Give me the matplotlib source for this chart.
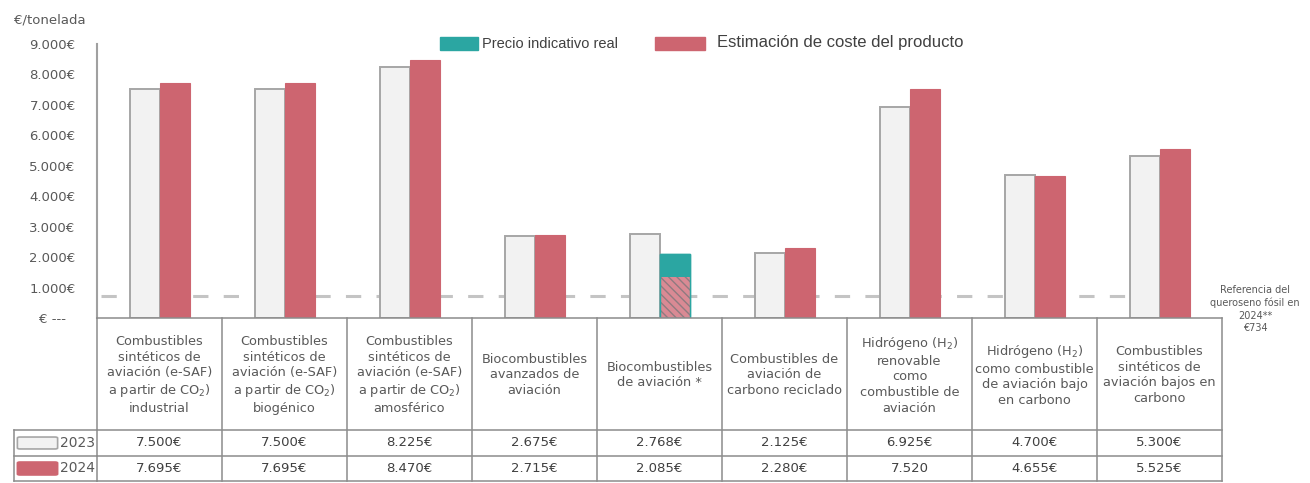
import matplotlib.pyplot as plt
import matplotlib.transforms as mtransforms
from matplotlib.patches import Rectangle, FancyBboxPatch
from matplotlib.lines import Line2D
import numpy as np

# data
categorias = [
    'Combustibles\nsintéticos de\naviación (e-SAF)\na partir de CO$_2$)\nindustrial',
    'Combustibles\nsintéticos de\naviación (e-SAF)\na partir de CO$_2$)\nbiogénico',
    'Combustibles\nsintéticos de\naviación (e-SAF)\na partir de CO$_2$)\namosférico',
    'Biocombustibles\navanzados de\naviación',
    'Biocombustibles\nde aviación *',
    'Combustibles de\naviación de\ncarbono reciclado',
    'Hidrógeno (H$_2$)\nrenovable\ncomo\ncombustible de\naviación',
    'Hidrógeno (H$_2$)\ncomo combustible\nde aviación bajo\nen carbono',
    'Combustibles\nsintéticos de\naviación bajos en\ncarbono',
]
coste_2023 = [7500, 7500, 8225, 2675, 2768, 2125, 6925, 4700, 5300]
coste_2024 = [7695, 7695, 8470, 2715, 2085, 2280, 7520, 4655, 5525]
etiquetas_2023 = ['7.500€', '7.500€', '8.225€', '2.675€', '2.768€', '2.125€', '6.925€', '4.700€', '5.300€']
etiquetas_2024 = ['7.695€', '7.695€', '8.470€', '2.715€', '2.085€', '2.280€', '7.520', '4.655€', '5.525€']
real_idx = 4            # category whose 2024 bar is the real indicative price
parte_rayada = 1350     # hatched lower part of that bar (estimated)
referencia = 734
yticks = [0, 1000, 2000, 3000, 4000, 5000, 6000, 7000, 8000, 9000]
ylabels = ['€ ---', '1.000€', '2.000€', '3.000€', '4.000€', '5.000€',
           '6.000€', '7.000€', '8.000€', '9.000€']

GRIS = '#f2f2f2'
BORDE = '#a6a6a6'
ROJO = '#cd6570'
TEAL = '#2ba6a2'
TXT = '#595959'
LINEA = '#8c8c8c'

W, H = 1310, 483
fig = plt.figure(figsize=(W / 100, H / 100), dpi=100)
fig.patch.set_facecolor('white')


def fx(px):
    return px / W


def fy(py):
    return 1 - py / H


ax = fig.add_axes([fx(97), fy(318), fx(1222) - fx(97), fy(40) - fy(318)])
x = np.arange(len(categorias))
bw = 0.24

ax.bar(x - bw / 2, coste_2023, bw, color=GRIS, edgecolor=BORDE, linewidth=1.4, zorder=2)
for i, v in enumerate(coste_2024):
    if i == real_idx:
        ax.bar(x[i] + bw / 2, v, bw, color=TEAL, edgecolor=TEAL, linewidth=1.0, zorder=2)
        ax.bar(x[i] + bw / 2, parte_rayada, bw, color='#d98a94', edgecolor='#8f7b80',
               hatch='\\\\\\\\', linewidth=0, zorder=3)
        ax.bar(x[i] + bw / 2, v, bw, fill=False, edgecolor=TEAL, linewidth=1.0, zorder=4)
    else:
        ax.bar(x[i] + bw / 2, v, bw, color=ROJO, edgecolor=ROJO, linewidth=0.8, zorder=2)

# reference line (fossil kerosene)
ax.hlines(referencia, -0.47, 8.25, colors='#c4c4c4', linestyles=(0, (5, 5)),
          linewidth=2.2, zorder=1)

ax.set_xlim(-0.5, 8.5)
ax.set_ylim(0, 9115)
ax.set_xticks([])
ax.set_yticks(yticks)
ax.set_yticklabels(ylabels, fontsize=9.5, color=TXT)
for lab in ax.get_yticklabels():
    lab.set_ha('center')
ax.tick_params(axis='y', length=0, pad=32)
for s in ['top', 'right', 'bottom']:
    ax.spines[s].set_visible(False)
ax.spines['left'].set_color('#a0a0a0')
ax.spines['left'].set_linewidth(1.5)
ax.spines['left'].set_bounds(0, 9000)
ax.patch.set_alpha(0)

fig.text(fx(50), fy(20), '€/tonelada', fontsize=9.5, color=TXT, ha='center', va='center')

# legend
fig.patches.append(Rectangle((fx(440), fy(50)), fx(478) - fx(440), fy(37) - fy(50),
                             transform=fig.transFigure, color=TEAL))
fig.text(fx(482), fy(44), 'Precio indicativo real', fontsize=10.5, color='#404040',
         family='Liberation Sans', va='center')
fig.patches.append(Rectangle((fx(655), fy(50)), fx(705) - fx(655), fy(37) - fy(50),
                             transform=fig.transFigure, color=ROJO))
fig.text(fx(717), fy(43), 'Estimación de coste del producto', fontsize=12, color='#404040',
         family='Liberation Sans', va='center')

fig.text(fx(1255), fy(309), 'Referencia del\nqueroseno fósil en\n2024**\n€734',
         fontsize=7, color=TXT, ha='center', va='center', linespacing=1.3)

# table under the chart
bt = mtransforms.blended_transform_factory(ax.transData, fig.transFigure)
y_top, y_hdr, y_r1, y_bot = fy(318), fy(430), fy(456), fy(481)
bordes = np.arange(len(categorias) + 1) - 0.5
for b in bordes:
    fig.add_artist(Line2D([b, b], [y_top, y_bot], transform=bt, color=LINEA, lw=1.1))
for yy in [y_top, y_hdr, y_r1, y_bot]:
    fig.add_artist(Line2D([bordes[0], bordes[-1]], [yy, yy], transform=bt, color=LINEA, lw=1.1))
for yy in [y_hdr, y_r1, y_bot]:
    fig.add_artist(Line2D([fx(14), fx(97)], [yy, yy], transform=fig.transFigure, color=LINEA, lw=1.1))
fig.add_artist(Line2D([fx(14), fx(14)], [y_hdr, y_bot], transform=fig.transFigure, color=LINEA, lw=1.1))

for i, cat in enumerate(categorias):
    fig.text(x[i], fy(375), cat, transform=bt, fontsize=9.3, color=TXT,
             ha='center', va='center', linespacing=1.25)
    fig.text(x[i], (y_hdr + y_r1) / 2, etiquetas_2023[i], transform=bt, fontsize=9.5,
             color='#404040', ha='center', va='center')
    fig.text(x[i], (y_r1 + y_bot) / 2, etiquetas_2024[i], transform=bt, fontsize=9.5,
             color='#404040', ha='center', va='center')

# row keys
fig.patches.append(FancyBboxPatch((fx(20), fy(448)), fx(55) - fx(20), fy(438) - fy(448),
                                  boxstyle='round,pad=0.002', transform=fig.transFigure,
                                  facecolor=GRIS, edgecolor=BORDE, lw=1.2))
fig.text(fx(60), (y_hdr + y_r1) / 2, '2023', fontsize=10, color=TXT, va='center')
fig.patches.append(FancyBboxPatch((fx(20), fy(474)), fx(55) - fx(20), fy(463) - fy(474),
                                  boxstyle='round,pad=0.002', transform=fig.transFigure,
                                  facecolor=ROJO, edgecolor=ROJO, lw=1.2))
fig.text(fx(60), (y_r1 + y_bot) / 2, '2024', fontsize=10, color=TXT, va='center')

plt.savefig('out.png', dpi=100, facecolor='white')
